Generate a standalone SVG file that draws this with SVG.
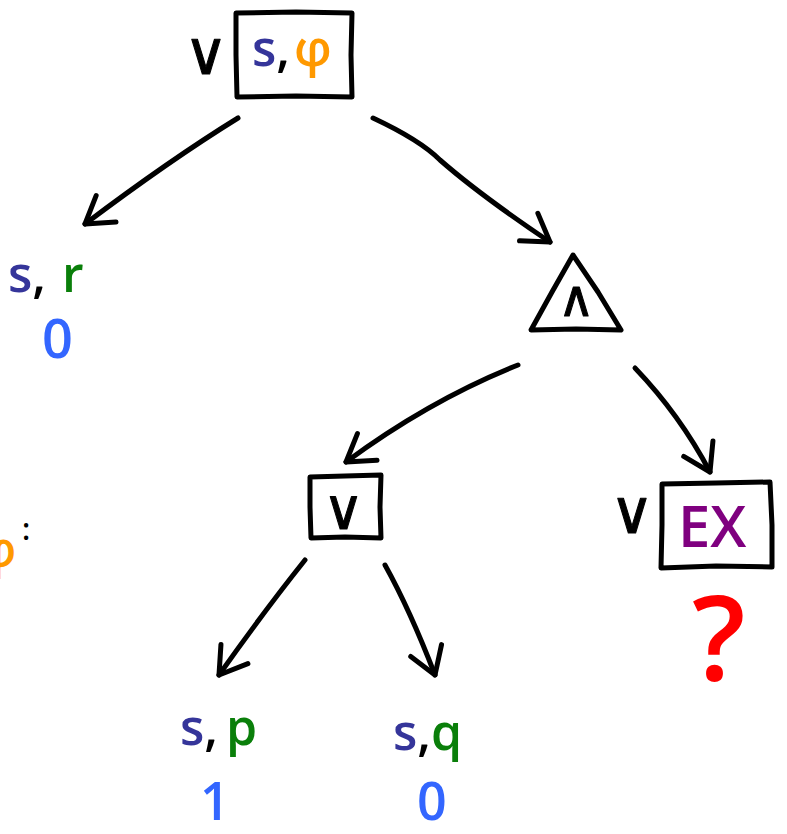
<svg xmlns="http://www.w3.org/2000/svg" width="787" height="834" viewBox="0 0 787 834">
<style>
.ln{fill:none;stroke:#000;stroke-width:5;stroke-linecap:round;stroke-linejoin:round}
.t{font-family:"Open Sans","DejaVu Sans",sans-serif;font-weight:600}
.op{font-family:"DejaVu Sans",sans-serif;font-weight:normal;stroke:#000;stroke-width:1;stroke-linejoin:round}
.nv{fill:#35359a}.og{fill:#ff9900}.gr{fill:#0a7f0a}.bl{fill:#3366ff}.pu{fill:#7f007f}.rd{fill:#ff0000}.bk{fill:#000}
</style>
<defs>
<marker id="ah" markerUnits="userSpaceOnUse" markerWidth="40" markerHeight="40" refX="0" refY="0" viewBox="-30 -20 40 40" orient="auto" overflow="visible">
<path d="M -26 -17 L 0 0 L -26 16" fill="none" stroke="#000" stroke-width="5" stroke-linecap="round" stroke-linejoin="round"/>
</marker>
</defs>
<g id="connectors">
<path class="ln" d="M 238 118 Q 170 160 85 224" marker-end="url(#ah)"/>
<path class="ln" d="M 373 118 Q 420 140 440 160 Q 480 195 550 242" marker-end="url(#ah)"/>
<path class="ln" d="M 518 365 Q 430 400 346 462" marker-end="url(#ah)"/>
<path class="ln" d="M 635 368 Q 680 415 710 472" marker-end="url(#ah)"/>
<path class="ln" d="M 305 560 Q 265 610 219 675" marker-end="url(#ah)"/>
<path class="ln" d="M 385 565 Q 410 610 435 675" marker-end="url(#ah)"/>
</g>
<g id="root">
<text class="op bk" x="184" y="74" font-size="60">∨</text>
<path class="ln" d="M 236 13 L 296 12 L 352 13 L 351 55 L 352 97 L 296 96 L 237 97 L 236 55 Z"/>
<text class="t" x="252" y="66" font-size="50"><tspan class="nv">s</tspan><tspan class="bk">,</tspan><tspan class="og" dx="4">φ</tspan></text>
</g>
<g id="leaf-r">
<text class="t" x="8" y="292" font-size="50"><tspan class="nv">s</tspan><tspan class="bk">,</tspan><tspan class="gr" dx="16">r</tspan></text>
<text class="t bl" x="42" y="358" font-size="54">0</text>
</g>
<g id="and">
<path class="ln" d="M 573 255 L 598 292 L 621 330 L 576 329 L 531 330 L 552 292 Z"/>
<text class="op bk" x="558" y="316" font-size="50">∧</text>
</g>
<g id="or">
<path class="ln" d="M 310 477 L 345 476 L 381 475 L 380 507 L 381 538 L 345 537 L 311 538 L 310 507 Z"/>
<text class="op bk" x="323" y="529" font-size="56">∨</text>
</g>
<g id="ex">
<text class="op bk" x="610" y="533" font-size="60">∨</text>
<path class="ln" d="M 662 484 L 716 483 L 770 482 L 772 525 L 772 567 L 716 566 L 661 568 L 662 525 Z"/>
<text class="t pu" x="678" y="547" font-size="58" font-weight="700">EX</text>
<text class="t rd" x="692" y="680" font-size="118">?</text>
</g>
<g id="leaf-p">
<text class="t" x="180" y="745" font-size="50"><tspan class="nv">s</tspan><tspan class="bk">,</tspan><tspan class="gr" dx="8">p</tspan></text>
<text class="t bl" x="200" y="820" font-size="52">1</text>
</g>
<g id="leaf-q">
<text class="t" x="393" y="750" font-size="50"><tspan class="nv">s</tspan><tspan class="bk">,</tspan><tspan class="gr">q</tspan></text>
<text class="t bl" x="417" y="820" font-size="52">0</text>
</g>
<g id="phi-def">
<text class="t og" x="-20" y="567" font-size="48">φ</text>
<text class="t bk" x="22" y="540" font-size="30">:</text>
</g>
</svg>
